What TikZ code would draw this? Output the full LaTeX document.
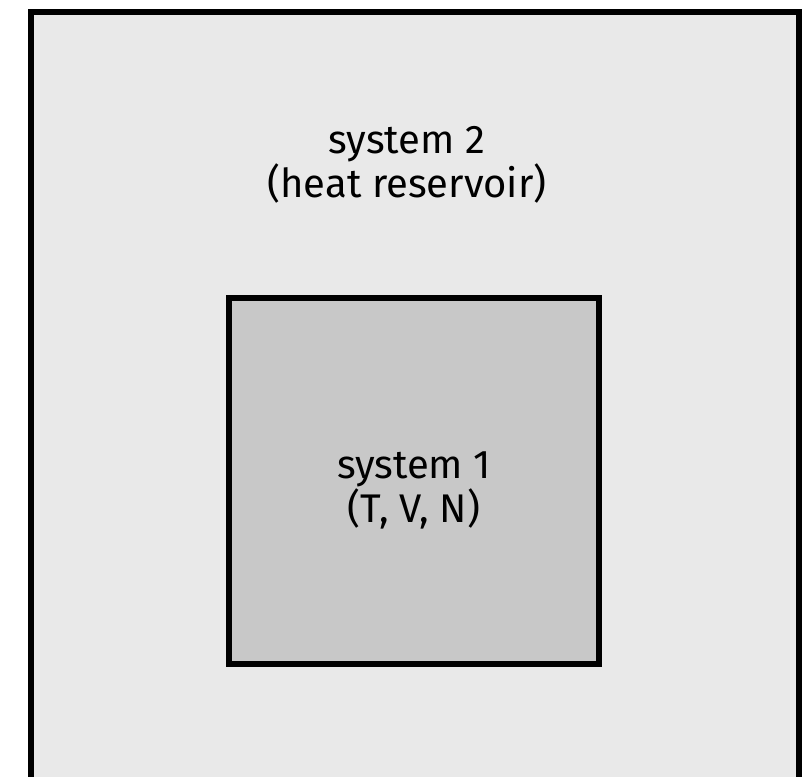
\documentclass[tikz,border=0pt]{standalone}
\usepackage{fontspec}
\setmainfont{Fira Sans}
\definecolor{outerfill}{HTML}{E9E9E9}
\definecolor{innerfill}{HTML}{C8C8C8}
\begin{document}
\begin{tikzpicture}[x=1pt,y=1pt,
  boxstyle/.style={draw=black,line width=6.5pt,rectangle,inner sep=0pt},
  lbl/.style={align=center,font=\fontsize{40}{44}\selectfont,text=black,inner sep=0pt}]
\useasboundingbox (0,0) rectangle (802,776);
\begin{scope}
\clip (0,0) rectangle (802,776);
\node[boxstyle,fill=outerfill,minimum width=768pt,minimum height=780pt] (outer) at (415,374) {};
\node[boxstyle,fill=innerfill,minimum width=370pt,minimum height=366pt] (inner) at (414,295) {};
\node[lbl] (t2) at (407,611) {system 2\\(heat reservoir)};
\node[lbl] (t1) at (414,286) {system 1\\(T, V, N)};
\end{scope}
\end{tikzpicture}
\end{document}
